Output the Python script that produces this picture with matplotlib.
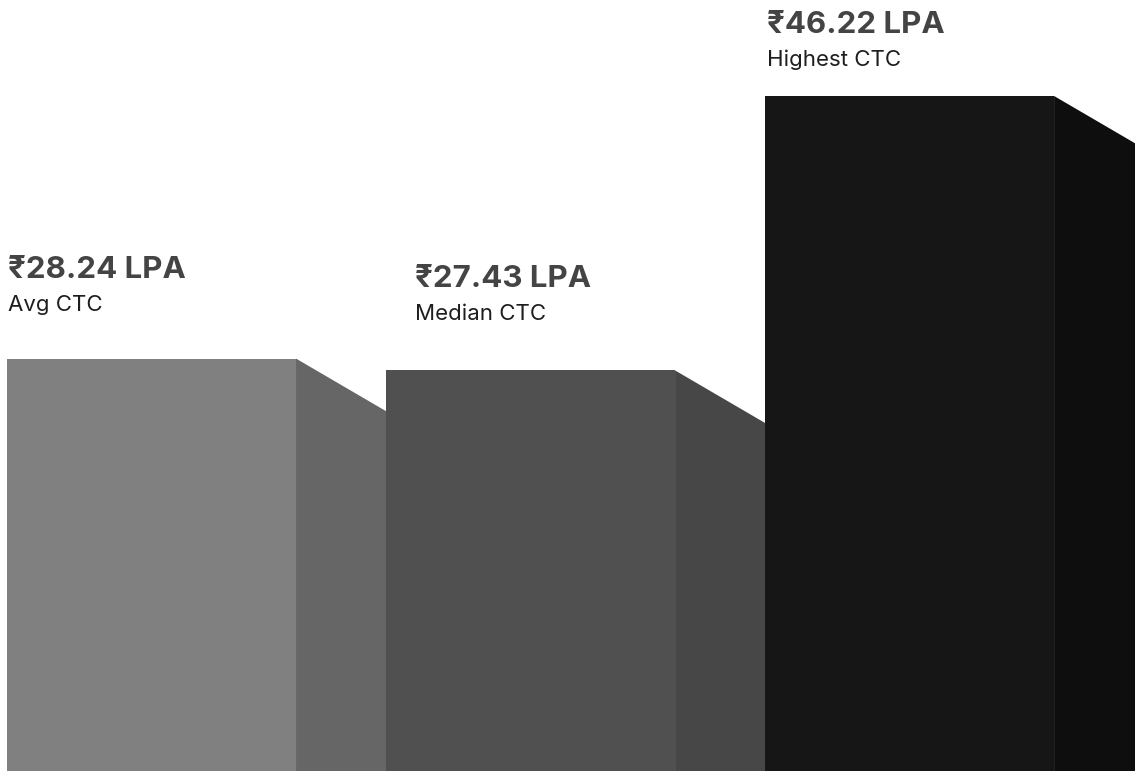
import matplotlib.pyplot as plt
from matplotlib.patches import Polygon

# CTC stats (lakhs per annum)
labels = ["Avg CTC", "Median CTC", "Highest CTC"]
values = [28.24, 27.43, 46.22]
value_text = ["₹28.24 LPA", "₹27.43 LPA", "₹46.22 LPA"]

front_colors = ["#808080", "#505050", "#161616"]
side_colors = ["#666666", "#474747", "#0e0e0e"]

# layout: pixel offsets for the captions above each bar
label_dx_px = [1, 29, 2]
label_gap_px = [48, 50, 30]

FONT = ["Inter", "DejaVu Sans"]
front_w = 0.7625
side_w = 0.2375
side_drop = 3.6

fig = plt.figure(figsize=(11.35, 7.71), dpi=100)
ax = fig.add_axes([0, 0, 1, 1])
ax.set_xlim(-0.0185, 2.976)
ax.set_ylim(0, max(values) * 771 / 675)
ax.axis("off")

for i, (v, lab, txt) in enumerate(zip(values, labels, value_text)):
    ax.bar(i, v, width=front_w, align="edge", color=front_colors[i], linewidth=0)
    x0 = i + front_w
    side = Polygon([(x0, 0), (x0, v), (x0 + side_w, v - side_drop), (x0 + side_w, 0)],
                   closed=True, facecolor=side_colors[i], edgecolor="none")
    ax.add_patch(side)

    gap = label_gap_px[i]
    ax.annotate(lab, xy=(i, v), xytext=(label_dx_px[i], gap),
                textcoords="offset pixels", ha="left", va="baseline",
                fontsize=16, color="#1e1e1e", family=FONT)
    ax.annotate(txt, xy=(i, v), xytext=(label_dx_px[i], gap + 33),
                textcoords="offset pixels", ha="left", va="baseline",
                fontsize=22.5, fontweight="bold", color="#444444", family=FONT)

fig.savefig("out.png", dpi=100)
plt.close(fig)
